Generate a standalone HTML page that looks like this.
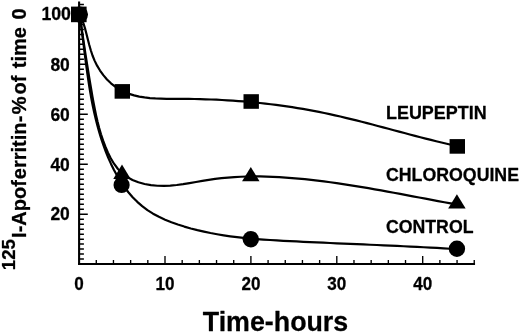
<!DOCTYPE html>
<html><head><meta charset="utf-8"><title>Figure</title>
<style>
html,body{margin:0;padding:0;background:#fff}
svg{display:block}
text{font-family:"Liberation Sans",Arial,sans-serif;font-weight:bold;fill:#000;stroke:#000;stroke-width:0.28px;stroke-linejoin:round}
</style></head><body>
<svg width="520" height="332" viewBox="0 0 520 332">
<rect width="520" height="332" fill="#fff"/>
<g stroke="#000" stroke-width="2.1" fill="none" stroke-linecap="butt">
<path d="M79.10 1.50 V264.85"/>
<path stroke-width="2" d="M78.05 264.00 H475.04"/>
</g>
<g stroke="#000" stroke-width="1.5" fill="none">
<path d="M79.10 259.11h4.8M79.10 254.11h4.8M79.10 249.12h4.8M79.10 244.12h4.8M79.10 239.13h4.8M79.10 234.14h4.8M79.10 229.14h4.8M79.10 224.15h4.8M79.10 219.15h4.8M79.10 214.16h8.7M79.10 209.17h4.8M79.10 204.17h4.8M79.10 199.18h4.8M79.10 194.18h4.8M79.10 189.19h4.8M79.10 184.20h4.8M79.10 179.20h4.8M79.10 174.21h4.8M79.10 169.21h4.8M79.10 164.22h8.7M79.10 159.23h4.8M79.10 154.23h4.8M79.10 149.24h4.8M79.10 144.24h4.8M79.10 139.25h4.8M79.10 134.26h4.8M79.10 129.26h4.8M79.10 124.27h4.8M79.10 119.27h4.8M79.10 114.28h8.7M79.10 109.29h4.8M79.10 104.29h4.8M79.10 99.30h4.8M79.10 94.30h4.8M79.10 89.31h4.8M79.10 84.32h4.8M79.10 79.32h4.8M79.10 74.33h4.8M79.10 69.33h4.8M79.10 64.34h8.7M79.10 59.35h4.8M79.10 54.35h4.8M79.10 49.36h4.8M79.10 44.36h4.8M79.10 39.37h4.8M79.10 34.38h4.8M79.10 29.38h4.8M79.10 24.39h4.8M79.10 19.39h4.8M79.10 14.40h8.7M79.10 9.41h4.8M79.10 4.41h4.8"/>
<path stroke-width="1.35" d="M96.28 264.10v-4.2M113.46 264.10v-4.2M130.64 264.10v-4.2M147.82 264.10v-4.2M165.00 264.10v-8.0M182.18 264.10v-4.2M199.36 264.10v-4.2M216.54 264.10v-4.2M233.72 264.10v-4.2M250.90 264.10v-8.0M268.08 264.10v-4.2M285.26 264.10v-4.2M302.44 264.10v-4.2M319.62 264.10v-4.2M336.80 264.10v-8.0M353.98 264.10v-4.2M371.16 264.10v-4.2M388.34 264.10v-4.2M405.52 264.10v-4.2M422.70 264.10v-8.0M439.88 264.10v-4.2M457.06 264.10v-4.2M474.24 264.10v-4.2"/>
</g>
<g stroke="#000" stroke-width="2.2" fill="none" stroke-linejoin="round">
<path d="M79.72 14.02 L81.88 18.96 L83.68 24.02 L85.23 29.18 L86.61 34.42 L87.93 39.69 L89.29 44.98 L90.79 50.25 L92.52 55.48 L94.59 60.62 L97.09 65.66 L100.02 70.53 L103.33 75.14 L106.99 79.43 L110.96 83.30 L115.18 86.69 L119.63 89.55 L124.29 91.93 L129.13 93.85 L134.13 95.39 L139.28 96.56 L144.55 97.44 L149.93 98.05 L155.39 98.45 L160.92 98.68 L166.50 98.79 L172.10 98.83 L177.71 98.83 L183.31 98.85 L188.88 98.91 L194.44 98.99 L199.98 99.12 L205.51 99.28 L211.01 99.48 L216.50 99.71 L221.98 99.98 L227.44 100.29 L232.89 100.64 L238.33 101.03 L243.75 101.46 L249.16 101.93 L254.57 102.44 L259.96 102.99 L265.35 103.58 L270.73 104.22 L276.10 104.89 L281.46 105.61 L286.82 106.38 L292.18 107.19 L297.53 108.04 L302.88 108.94 L308.23 109.89 L313.58 110.88 L318.93 111.92 L324.28 113.01 L329.62 114.15 L334.98 115.33 L340.33 116.55 L345.68 117.81 L351.03 119.10 L356.38 120.43 L361.73 121.78 L367.08 123.15 L372.42 124.54 L377.77 125.94 L383.11 127.36 L388.44 128.78 L393.78 130.21 L399.10 131.63 L404.42 133.05 L409.74 134.46 L415.05 135.86 L420.35 137.24 L425.65 138.60 L430.94 139.94 L436.22 141.25 L441.49 142.53 L446.75 143.77 L452.00 144.97 L457.24 146.13"/>
<path d="M79.63 13.89 L80.52 20.33 L81.42 26.73 L82.33 33.10 L83.26 39.45 L84.21 45.77 L85.17 52.09 L86.15 58.39 L87.15 64.69 L88.17 71.00 L89.20 77.31 L90.25 83.63 L91.32 89.97 L92.41 96.34 L93.56 102.71 L94.78 109.08 L96.10 115.43 L97.56 121.75 L99.18 128.02 L100.99 134.24 L103.02 140.39 L105.30 146.45 L107.85 152.40 L110.73 158.20 L114.01 163.69 L117.76 168.73 L122.07 173.17 L127.00 176.91 L132.47 179.93 L138.37 182.27 L144.57 184.00 L150.97 185.14 L157.43 185.74 L163.88 185.86 L170.32 185.58 L176.74 184.98 L183.15 184.12 L189.55 183.10 L195.95 181.99 L202.35 180.87 L208.74 179.81 L215.14 178.90 L221.54 178.14 L227.95 177.53 L234.35 177.06 L240.76 176.73 L247.17 176.52 L253.58 176.43 L259.98 176.46 L266.39 176.59 L272.80 176.82 L279.20 177.14 L285.60 177.55 L292.00 178.03 L298.39 178.58 L304.78 179.19 L311.16 179.87 L317.55 180.61 L323.92 181.40 L330.30 182.24 L336.67 183.13 L343.03 184.07 L349.40 185.05 L355.76 186.06 L362.11 187.11 L368.46 188.19 L374.81 189.30 L381.15 190.43 L387.49 191.58 L393.83 192.75 L400.16 193.92 L406.49 195.11 L412.81 196.31 L419.13 197.50 L425.44 198.70 L431.75 199.89 L438.06 201.07 L444.36 202.24 L450.66 203.39 L456.96 204.53"/>
<path d="M79.49 14.02 L80.44 20.57 L81.34 27.15 L82.21 33.75 L83.05 40.36 L83.88 46.99 L84.72 53.62 L85.56 60.26 L86.44 66.90 L87.35 73.53 L88.31 80.16 L89.34 86.78 L90.44 93.38 L91.63 99.96 L92.92 106.52 L94.32 113.06 L95.85 119.56 L97.51 126.04 L99.32 132.47 L101.29 138.87 L103.43 145.22 L105.76 151.52 L108.28 157.77 L111.02 163.92 L113.99 169.95 L117.19 175.83 L120.64 181.53 L124.36 187.01 L128.37 192.24 L132.66 197.20 L137.26 201.85 L142.19 206.17 L147.45 210.11 L153.05 213.66 L158.95 216.83 L165.09 219.66 L171.41 222.20 L177.83 224.50 L184.31 226.57 L190.82 228.45 L197.36 230.15 L203.93 231.67 L210.50 233.04 L217.09 234.25 L223.68 235.33 L230.28 236.29 L236.89 237.13 L243.51 237.86 L250.13 238.51 L256.76 239.08 L263.39 239.58 L270.03 240.02 L276.68 240.42 L283.33 240.79 L289.99 241.13 L296.65 241.46 L303.32 241.78 L309.99 242.10 L316.67 242.41 L323.35 242.71 L330.04 243.00 L336.72 243.29 L343.41 243.58 L350.11 243.87 L356.80 244.16 L363.49 244.44 L370.18 244.73 L376.88 245.02 L383.57 245.32 L390.26 245.62 L396.95 245.93 L403.63 246.24 L410.31 246.56 L416.99 246.90 L423.67 247.24 L430.34 247.59 L437.00 247.96 L443.66 248.34 L450.32 248.74 L456.96 249.15"/>
</g>
<g fill="#000" stroke="none">
<rect x="71.00" y="6.60" width="15.60" height="15.60"/>
<circle cx="79.90" cy="14.60" r="8.10"/>
<rect x="114.60" y="84.10" width="15.40" height="14.60"/>
<rect x="243.50" y="94.20" width="15.40" height="14.60"/>
<rect x="449.60" y="139.10" width="15.40" height="14.60"/>
<path d="M122.00 164.60 L130.75 178.90 H113.25 Z"/>
<path d="M250.80 167.00 L259.55 181.30 H242.05 Z"/>
<path d="M456.90 194.30 L465.65 208.60 H448.15 Z"/>
<circle cx="121.60" cy="184.90" r="8.10"/>
<circle cx="250.80" cy="239.20" r="8.20"/>
<circle cx="456.90" cy="248.80" r="8.20"/>
</g>
<g font-size="18">
<text x="71.0" y="20.0" text-anchor="end" textLength="29.6" lengthAdjust="spacingAndGlyphs">100</text>
<text x="69.8" y="70.5" text-anchor="end" textLength="19.4" lengthAdjust="spacingAndGlyphs">80</text>
<text x="69.8" y="120.9" text-anchor="end" textLength="19.4" lengthAdjust="spacingAndGlyphs">60</text>
<text x="69.8" y="170.7" text-anchor="end" textLength="19.4" lengthAdjust="spacingAndGlyphs">40</text>
<text x="69.8" y="220.2" text-anchor="end" textLength="19.4" lengthAdjust="spacingAndGlyphs">20</text>
<text x="79.1" y="289.6" text-anchor="middle" textLength="9.5" lengthAdjust="spacingAndGlyphs">0</text>
<text x="165.0" y="289.6" text-anchor="middle" textLength="19.0" lengthAdjust="spacingAndGlyphs">10</text>
<text x="250.9" y="289.6" text-anchor="middle" textLength="19.0" lengthAdjust="spacingAndGlyphs">20</text>
<text x="336.8" y="289.6" text-anchor="middle" textLength="19.0" lengthAdjust="spacingAndGlyphs">30</text>
<text x="422.7" y="289.6" text-anchor="middle" textLength="19.0" lengthAdjust="spacingAndGlyphs">40</text>
<text x="386" y="118.6" font-size="17.7" textLength="100.6" lengthAdjust="spacingAndGlyphs">LEUPEPTIN</text>
<text x="386" y="180.7" font-size="17.5" textLength="133" lengthAdjust="spacingAndGlyphs">CHLOROQUINE</text>
<text x="386" y="233.1" font-size="17.7">CONTROL</text>
</g>
<text x="275.5" y="330.6" font-size="26.8" text-anchor="middle">Time-hours</text>
<g transform="translate(25.7 0) rotate(-90)">
<text x="-270.2" y="-10.7" font-size="20"><tspan font-size="18.6">125</tspan><tspan x="-237.9" y="0" dx="0 0 0 0 0 0 0.94 0 0 0 0 0 0 0.12 1.34 0 -3.5 0 0 1.82 0 0 0 0 1.88">I-Apoferritin-% of time 0</tspan></text>
</g>
</svg>
</body></html>
